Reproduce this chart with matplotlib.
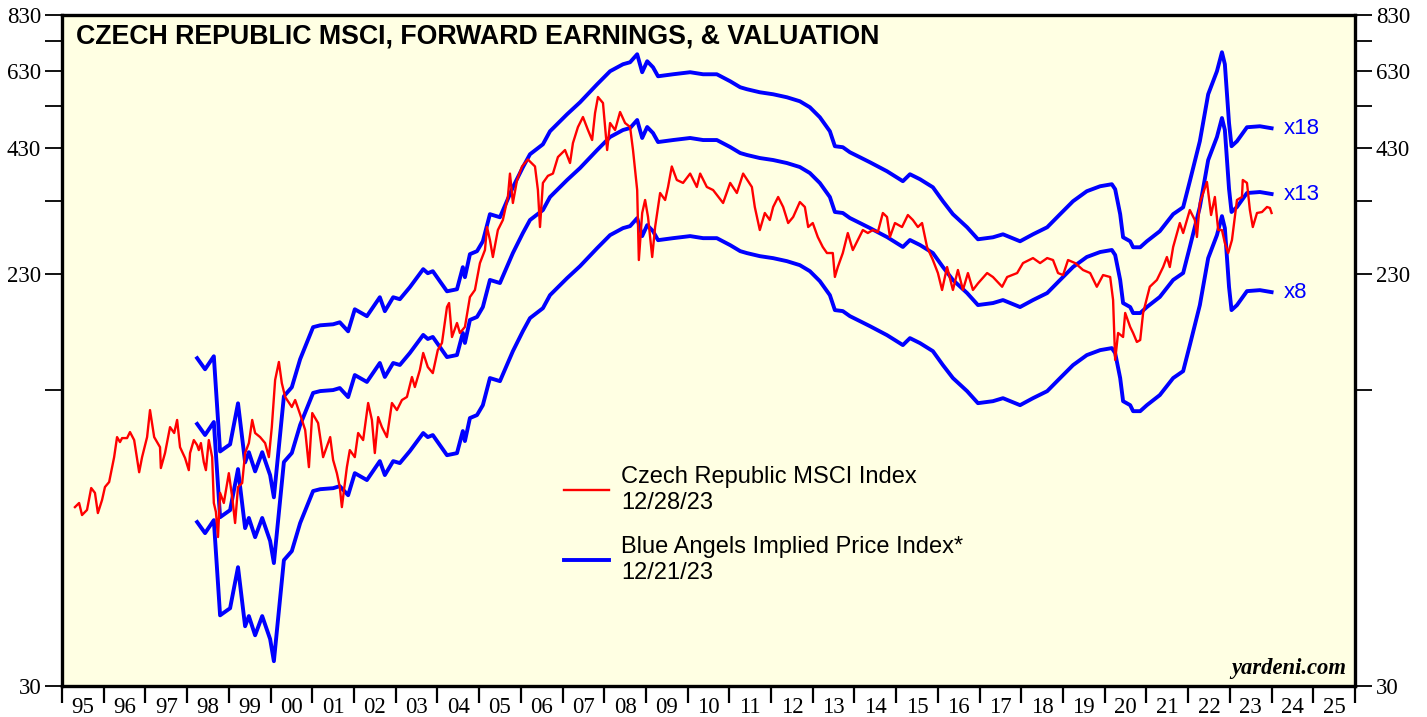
import matplotlib
matplotlib.use('Agg')
import matplotlib.pyplot as plt
from matplotlib.ticker import FixedLocator, NullFormatter

# ------------------------- #
# Data
# ------------------------- #

# Czech Republic MSCI Index (decimal year, index level)
msci_t = [1995.31, 1995.41, 1995.48, 1995.60, 1995.70, 1995.79, 1995.86, 1995.96, 1996.03, 1996.13,
          1996.25, 1996.32, 1996.39, 1996.44, 1996.56, 1996.63, 1996.73, 1996.85, 1996.92, 1997.04,
          1997.11, 1997.21, 1997.35, 1997.37, 1997.47, 1997.59, 1997.69, 1997.76, 1997.83, 1997.95,
          1998.04, 1998.07, 1998.16, 1998.24, 1998.28, 1998.33, 1998.40, 1998.45, 1998.52, 1998.60,
          1998.64, 1998.69, 1998.74, 1998.79, 1998.88, 1999.00, 1999.08, 1999.15, 1999.22, 1999.32,
          1999.39, 1999.48, 1999.56, 1999.63, 1999.75, 1999.87, 1999.96, 2000.03, 2000.11, 2000.20,
          2000.27, 2000.35, 2000.51, 2000.59, 2000.71, 2000.83, 2000.92, 2001.00, 2001.14, 2001.26,
          2001.43, 2001.50, 2001.59, 2001.66, 2001.71, 2001.83, 2001.90, 2002.02, 2002.10, 2002.22,
          2002.34, 2002.43, 2002.50, 2002.58, 2002.67, 2002.79, 2002.91, 2003.03, 2003.15, 2003.27,
          2003.39, 2003.46, 2003.58, 2003.66, 2003.77, 2003.89, 2004.01, 2004.11, 2004.23, 2004.28,
          2004.35, 2004.47, 2004.54, 2004.66, 2004.78, 2004.90, 2005.02, 2005.14, 2005.19, 2005.26,
          2005.33, 2005.45, 2005.57, 2005.69, 2005.74, 2005.81, 2005.91, 2006.03, 2006.17, 2006.34,
          2006.41, 2006.46, 2006.53, 2006.65, 2006.77, 2006.89, 2007.06, 2007.18, 2007.25, 2007.37,
          2007.49, 2007.61, 2007.71, 2007.78, 2007.85, 2007.97, 2008.07, 2008.14, 2008.26, 2008.38,
          2008.50, 2008.62, 2008.69, 2008.79, 2008.83, 2008.91, 2008.98, 2009.05, 2009.15, 2009.22,
          2009.34, 2009.46, 2009.53, 2009.62, 2009.74, 2009.89, 2010.06, 2010.22, 2010.30, 2010.46,
          2010.61, 2010.85, 2011.02, 2011.18, 2011.33, 2011.54, 2011.61, 2011.73, 2011.85, 2011.97,
          2012.05, 2012.17, 2012.29, 2012.41, 2012.53, 2012.69, 2012.81, 2012.89, 2013.00, 2013.12,
          2013.24, 2013.34, 2013.48, 2013.53, 2013.60, 2013.72, 2013.84, 2013.96, 2014.08, 2014.20,
          2014.32, 2014.44, 2014.56, 2014.68, 2014.78, 2014.85, 2014.97, 2015.14, 2015.28, 2015.40,
          2015.52, 2015.62, 2015.74, 2015.88, 2016.00, 2016.10, 2016.22, 2016.36, 2016.48, 2016.60,
          2016.72, 2016.84, 2016.96, 2017.18, 2017.32, 2017.54, 2017.66, 2017.90, 2018.04, 2018.28,
          2018.45, 2018.62, 2018.76, 2018.88, 2019.00, 2019.12, 2019.29, 2019.48, 2019.65, 2019.81,
          2019.96, 2020.13, 2020.20, 2020.25, 2020.32, 2020.44, 2020.49, 2020.61, 2020.68, 2020.77,
          2020.85, 2020.92, 2021.08, 2021.25, 2021.40, 2021.49, 2021.56, 2021.64, 2021.80, 2021.88,
          2022.04, 2022.16, 2022.21, 2022.28, 2022.36, 2022.45, 2022.55, 2022.64, 2022.72, 2022.81,
          2022.88, 2022.96, 2023.05, 2023.17, 2023.29, 2023.31, 2023.41, 2023.48, 2023.55, 2023.65,
          2023.77, 2023.89, 2023.96, 2024.00]
msci_v = [72.7, 74.2, 69.9, 71.7, 79.9, 78.0, 70.6, 75.3, 80.3, 82.3,
          93.1, 102.8, 100.3, 102.3, 102.3, 105.4, 101.3, 86.4, 93.1, 102.8,
          117.5, 102.8, 97.8, 88.2, 95.0, 108.0, 104.9, 111.9, 97.8, 92.7,
          87.3, 95.0, 101.3, 98.8, 96.4, 99.8, 90.8, 87.3, 101.3, 93.1,
          74.2, 71.0, 62.7, 78.0, 74.2, 86.0, 76.4, 67.2, 80.3, 81.9,
          95.0, 99.8, 111.9, 104.9, 102.8, 99.8, 93.1, 108.0, 136.4, 149.1,
          134.3, 125.4, 119.3, 123.5, 115.0, 106.5, 88.6, 115.8, 110.2, 93.1,
          102.8, 91.8, 86.0, 80.3, 72.7, 88.6, 96.4, 93.1, 104.9, 101.3,
          121.7, 111.9, 95.0, 113.5, 108.0, 102.8, 121.7, 117.5, 123.5, 125.4,
          138.4, 131.7, 143.3, 155.9, 145.4, 141.1, 158.2, 163.8, 195.7, 199.6,
          168.7, 180.8, 172.1, 177.3, 205.6, 212.9, 243.2, 259.4, 290.7, 272.6,
          250.6, 286.4, 301.0, 337.3, 378.7, 327.4, 366.9, 392.3, 406.1, 392.3,
          349.1, 290.7, 361.6, 374.5, 378.7, 411.0, 425.5, 399.0, 440.5, 476.8,
          501.0, 469.8, 447.1, 511.1, 553.2, 537.0, 425.5, 486.4, 469.8, 513.6,
          486.4, 476.8, 425.5, 349.1, 246.9, 311.6, 332.3, 305.5, 250.6, 290.7,
          344.0, 332.3, 354.4, 392.3, 366.9, 361.6, 378.7, 354.4, 378.7, 354.4,
          349.1, 327.4, 361.6, 344.0, 378.7, 354.4, 321.0, 286.4, 311.6, 301.0,
          321.0, 337.3, 321.0, 296.5, 305.5, 329.0, 321.0, 290.7, 296.5, 276.7,
          263.3, 255.6, 255.6, 227.1, 238.5, 255.6, 282.2, 259.4, 272.6, 286.4,
          282.2, 286.4, 283.5, 311.6, 305.5, 276.7, 296.5, 290.7, 308.5, 301.0,
          290.7, 296.5, 263.3, 246.9, 231.5, 212.9, 238.5, 212.9, 235.0, 212.9,
          231.5, 212.9, 219.9, 231.5, 227.0, 216.3, 227.0, 231.5, 243.2, 249.3,
          243.2, 249.3, 246.9, 231.5, 229.2, 246.9, 243.2, 235.0, 231.5, 216.3,
          229.2, 227.0, 202.6, 150.6, 172.1, 168.7, 190.0, 177.3, 172.1, 164.6,
          166.2, 190.0, 216.3, 223.7, 238.5, 250.6, 238.5, 263.3, 296.5, 282.2,
          316.2, 301.0, 276.7, 327.4, 344.0, 363.3, 308.5, 337.3, 286.4, 286.4,
          268.6, 255.6, 272.6, 332.3, 337.3, 366.9, 361.6, 316.2, 290.7, 311.6,
          313.1, 321.0, 319.4, 311.6]

# Forward earnings behind the Blue Angels implied price index
eps_t = [1998.24, 1998.43, 1998.64, 1998.79, 1999.03, 1999.22, 1999.39, 1999.48, 1999.63, 1999.80,
         1999.99, 2000.08, 2000.32, 2000.51, 2000.71, 2001.02, 2001.19, 2001.50, 2001.66, 2001.86,
         2002.02, 2002.31, 2002.62, 2002.74, 2002.94, 2003.10, 2003.34, 2003.66, 2003.77, 2003.89,
         2004.23, 2004.47, 2004.61, 2004.66, 2004.78, 2004.95, 2005.09, 2005.26, 2005.50, 2005.81,
         2006.05, 2006.22, 2006.53, 2006.70, 2007.11, 2007.42, 2007.83, 2008.14, 2008.45, 2008.62,
         2008.79, 2008.91, 2009.03, 2009.17, 2009.29, 2009.65, 2010.06, 2010.37, 2010.70, 2011.02,
         2011.26, 2011.42, 2011.73, 2012.05, 2012.38, 2012.69, 2012.93, 2013.17, 2013.41, 2013.53,
         2013.72, 2013.89, 2014.13, 2014.37, 2014.78, 2015.16, 2015.33, 2015.57, 2015.88, 2016.12,
         2016.36, 2016.70, 2016.96, 2017.32, 2017.56, 2017.97, 2018.28, 2018.62, 2018.93, 2019.24,
         2019.57, 2019.89, 2020.17, 2020.25, 2020.37, 2020.44, 2020.61, 2020.68, 2020.85, 2021.01,
         2021.32, 2021.64, 2021.88, 2022.04, 2022.28, 2022.48, 2022.69, 2022.81, 2022.88, 2022.98,
         2023.04, 2023.17, 2023.41, 2023.72, 2024.00]
eps_v = [8.44, 7.99, 8.52, 5.32, 5.51, 6.75, 5.04, 5.30, 4.82, 5.30,
         4.73, 4.24, 6.99, 7.31, 8.40, 9.84, 9.93, 9.98, 10.08, 9.64,
         10.75, 10.39, 11.41, 10.65, 11.41, 11.30, 11.99, 13.11, 12.85, 12.98,
         11.75, 11.87, 13.24, 12.60, 14.12, 14.33, 15.05, 17.21, 16.95, 19.66,
         21.71, 23.15, 24.32, 25.94, 28.22, 29.94, 32.73, 34.91, 36.14, 36.50,
         37.97, 34.74, 36.68, 35.60, 34.05, 34.39, 34.74, 34.39, 34.39, 33.22,
         32.25, 31.94, 31.46, 31.15, 30.69, 30.09, 29.21, 27.80, 25.94, 24.09,
         23.97, 23.38, 22.81, 22.25, 21.28, 20.26, 20.97, 20.46, 19.66, 18.35,
         17.21, 16.13, 15.20, 15.35, 15.58, 15.05, 15.58, 16.13, 17.21, 18.35,
         19.28, 19.76, 19.96, 19.47, 17.21, 15.35, 15.05, 14.61, 14.61, 15.05,
         15.82, 17.21, 17.81, 20.26, 24.69, 31.15, 34.91, 38.35, 36.14, 27.00,
         24.09, 24.69, 26.46, 26.59, 26.33]

multiples = [8, 13, 18]
multiple_labels = ['x8', 'x13', 'x18']

y_major = [30, 230, 430, 630, 830]
y_minor = [130, 330, 530, 730]
years = list(range(1995, 2027))
year_labels = ['%02d' % (y % 100) for y in range(1995, 2026)]

# ------------------------- #
# Plot
# ------------------------- #

fig = plt.figure(figsize=(14.27, 7.17), dpi=100)
ax = fig.add_axes([62 / 1427, 1 - 686 / 717, (1355 - 62) / 1427, (686 - 15) / 717])
ax.set_facecolor('#FFFFE3')

for m, lab in zip(multiples, multiple_labels):
    vals = [m * e for e in eps_v]
    ax.plot(eps_t, vals, color='#0000FF', lw=2.8, solid_joinstyle='round', zorder=2)
    ax.text(eps_t[-1] + 0.3, vals[-1], lab, color='#0000FF', fontsize=16,
            family='Liberation Sans', va='center', ha='left')

ax.plot(msci_t, msci_v, color='#FF0000', lw=1.7, zorder=3)

ax.set_yscale('log')
ax.set_ylim(30, 830)
ax.set_xlim(1995, 2026)

# y axis on both sides
ax.yaxis.set_major_locator(FixedLocator(y_major))
ax.yaxis.set_minor_locator(FixedLocator(y_minor))
ax.set_yticklabels([str(v) for v in y_major])
ax.yaxis.set_minor_formatter(NullFormatter())
ax.tick_params(axis='y', which='both', direction='out', length=12, width=1.3,
               left=True, right=True, labelleft=True, labelright=True,
               labelsize=16.5, pad=3)

# x axis: ticks at year boundaries, labels mid-year
ax.xaxis.set_major_locator(FixedLocator(years))
ax.xaxis.set_minor_locator(FixedLocator([y + 0.5 for y in range(1995, 2026)]))
ax.xaxis.set_major_formatter(NullFormatter())
ax.set_xticklabels(year_labels, minor=True)
ax.tick_params(axis='x', which='major', direction='out', length=12, width=1.6)
ax.tick_params(axis='x', which='minor', length=0, labelsize=16.5, pad=8)

for lbl in ax.get_xticklabels(minor=True) + ax.get_yticklabels():
    lbl.set_family('Liberation Serif')

for s in ax.spines.values():
    s.set_linewidth(2.4)

ax.text(0.011, 0.987, 'CZECH REPUBLIC MSCI, FORWARD EARNINGS, & VALUATION',
        transform=ax.transAxes, fontsize=19.3, fontweight='bold',
        family='Liberation Sans', va='top', ha='left')

ax.text(0.993, 0.01, 'yardeni.com', transform=ax.transAxes, fontsize=16.3,
        fontweight='bold', style='italic', family='Liberation Serif',
        ha='right', va='bottom')

red_handle, = ax.plot([], [], color='#FF0000', lw=1.7)
blue_handle, = ax.plot([], [], color='#0000FF', lw=2.8)
leg = ax.legend([red_handle, blue_handle],
                ['Czech Republic MSCI Index\n12/28/23',
                 'Blue Angels Implied Price Index*\n12/21/23'],
                loc='upper left', bbox_to_anchor=(0.372, 0.359), frameon=False,
                prop={'family': 'Liberation Sans', 'size': 17},
                handlelength=1.9, handletextpad=0.5, labelspacing=0.95)

fig.savefig('out.png', dpi=100, facecolor='white')
